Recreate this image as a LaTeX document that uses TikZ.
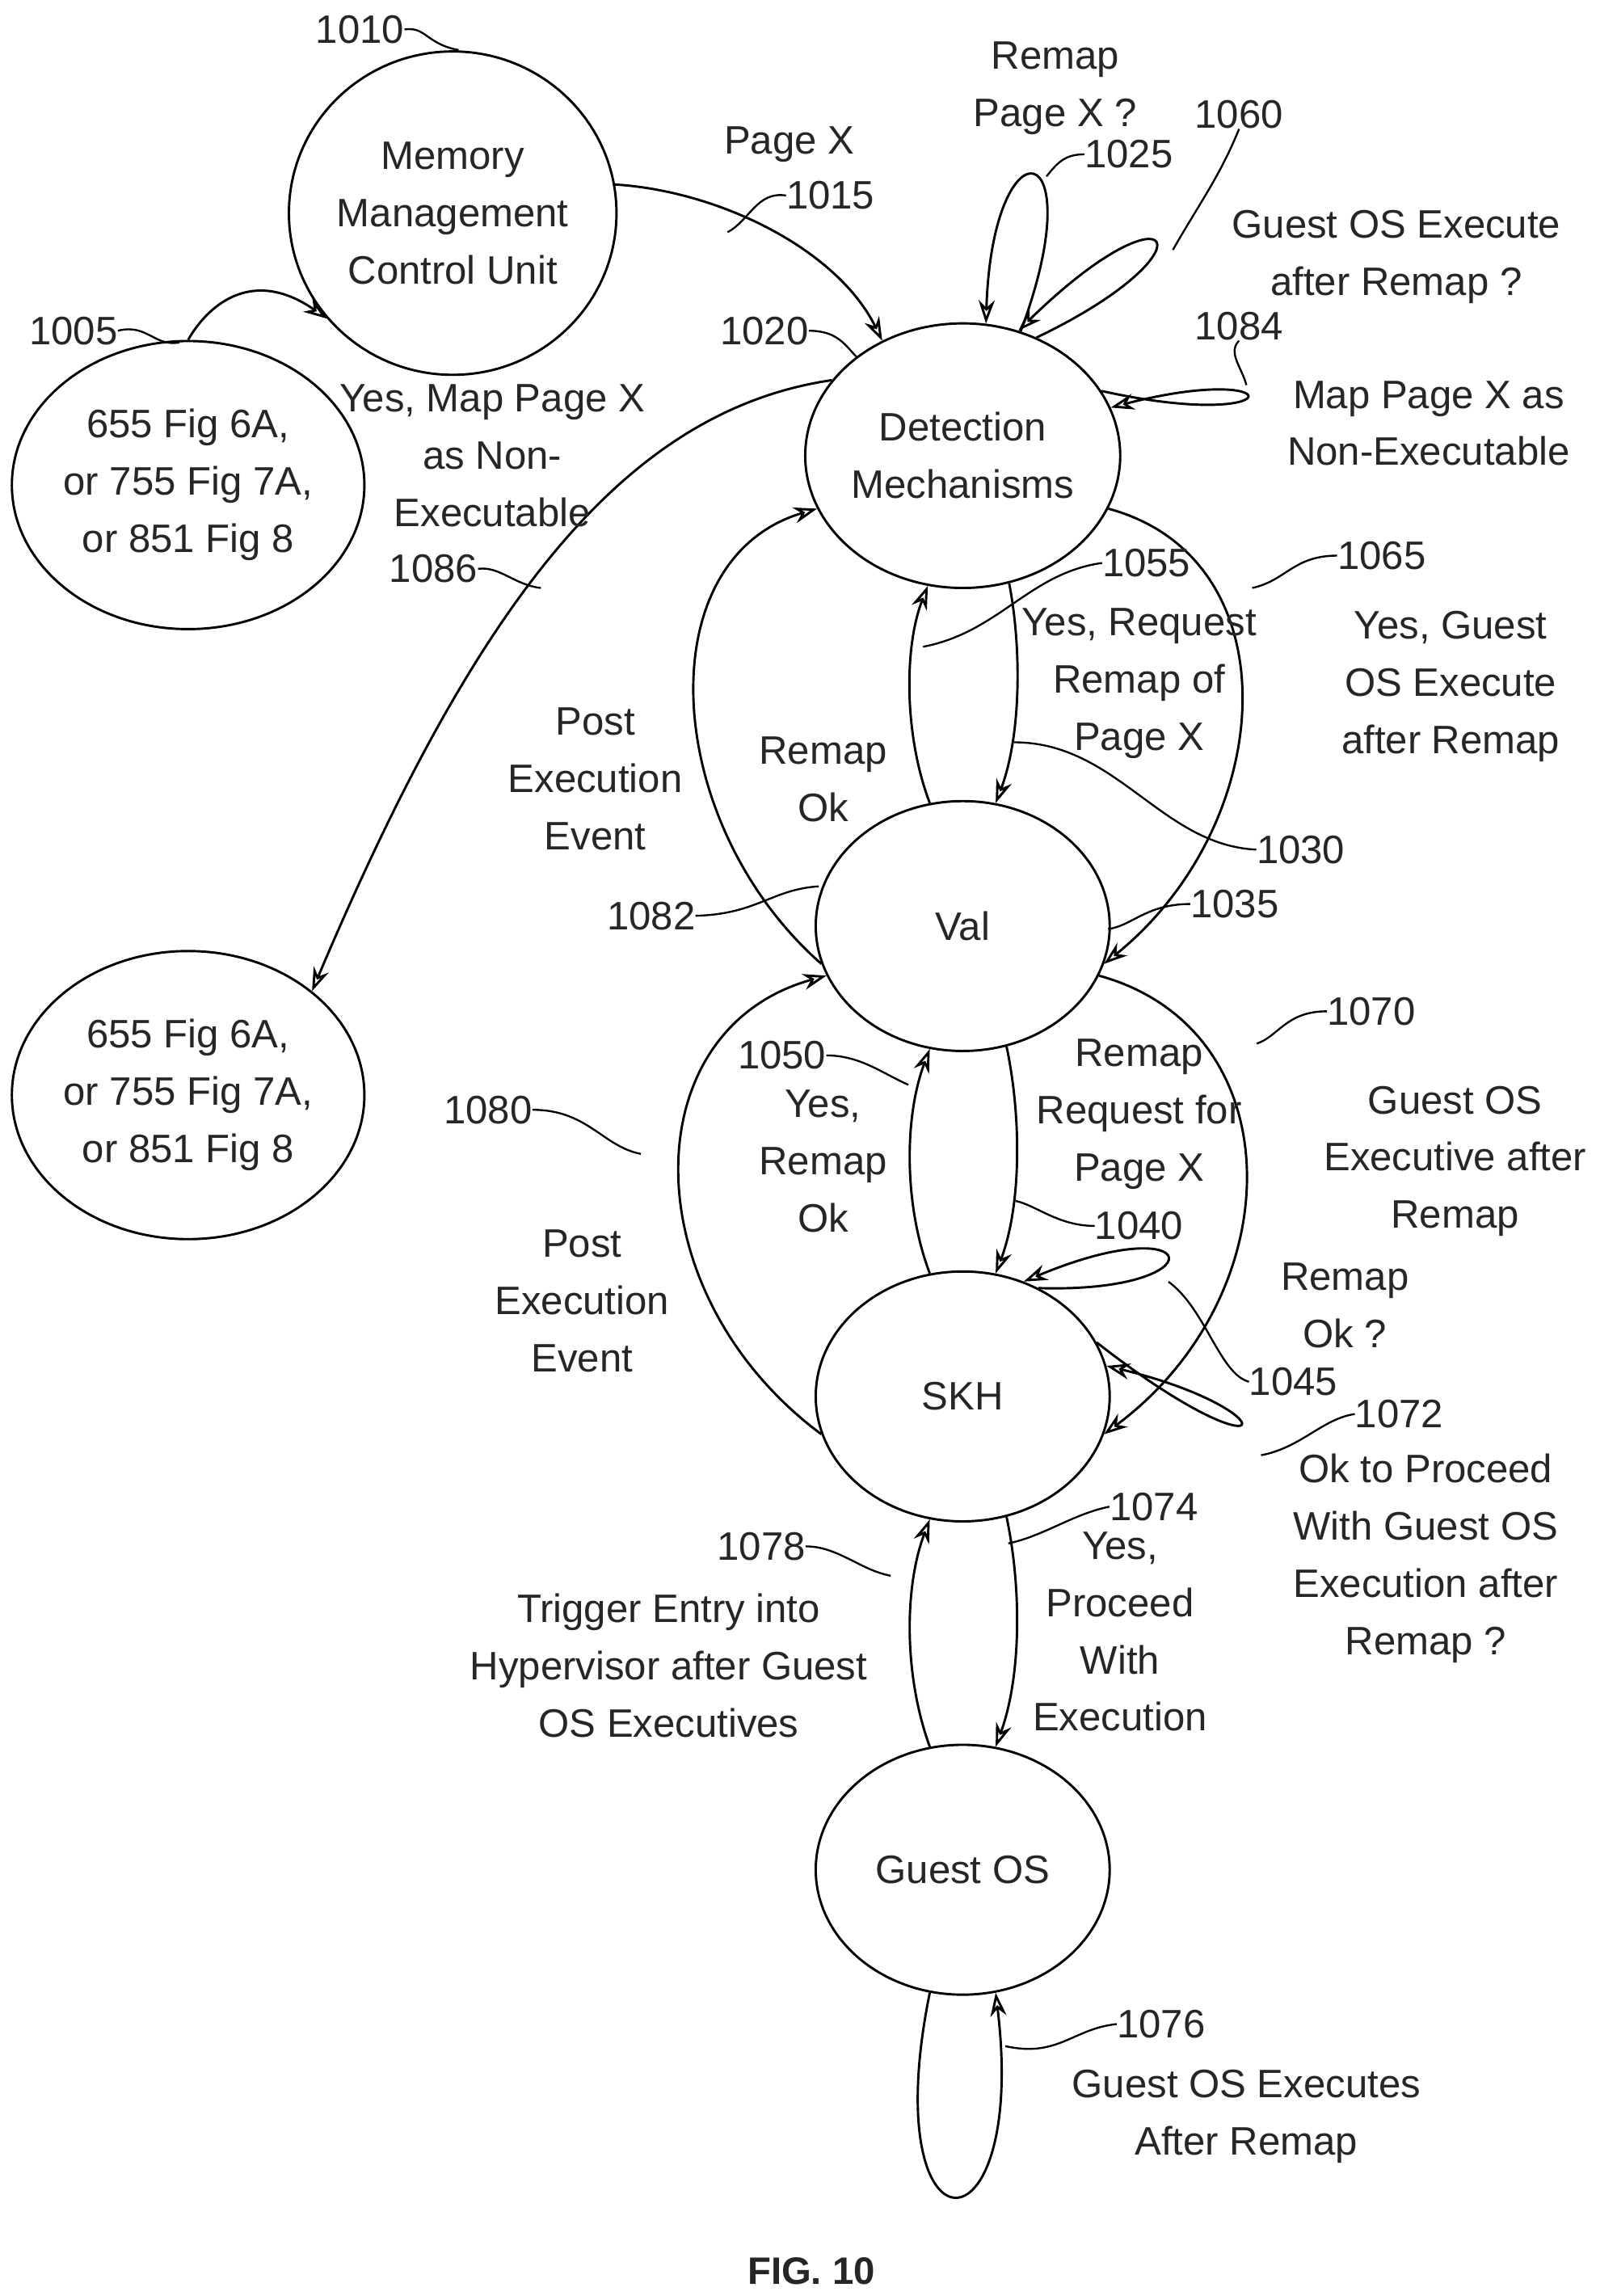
\documentclass[tikz,border=0pt]{standalone}
\usepackage{fontspec}
\setmainfont{Liberation Sans}
\usetikzlibrary{arrows.meta,shapes.geometric}
\begin{document}
\begin{tikzpicture}[x=1pt,y=-1pt,
  every node/.style={font=\fontsize{27}{39}\selectfont,align=center,text=black!85},
  st/.style={ellipse,draw,line width=1.6pt,inner sep=0pt},
  ar/.style={line width=1.6pt,-{Stealth[length=16pt,width=11pt,open]}},
  ld/.style={line width=1.3pt},
  lb/.style={inner sep=0pt}]
\useasboundingbox (0,0) rectangle (1100,1562);
\fill[white] (0,0) rectangle (1100,1562);
% states
\node[st,minimum width=220,minimum height=220] (mm) at (308,145) {Memory\\Management\\Control Unit};
\node[st,minimum width=230,minimum height=196] (l1) at (128,330) {655 Fig 6A,\\or 755 Fig 7A,\\or 851 Fig 8};
\node[st,minimum width=230,minimum height=196] (l2) at (128,745) {655 Fig 6A,\\or 755 Fig 7A,\\or 851 Fig 8};
\node[st,minimum width=200,minimum height=180] (det) at (655,310) {Detection\\Mechanisms};
\node[st,minimum width=200,minimum height=170] (val) at (655,630) {Val};
\node[st,minimum width=200,minimum height=170] (skh) at (655,950) {SKH};
\node[st,minimum width=200,minimum height=170] (gos) at (655,1272) {Guest OS};
% edges
\draw[ar] (l1.north) .. controls (140,210) and (170,180) .. (mm.220);
\draw[ar] (mm.10) .. controls (490,130) and (570,170) .. (det.125);
\draw[ar] (det.150) .. controls (420,280) and (320,420) .. (l2.40);
% det-val
\draw[ar] (val.195) .. controls (450,560) and (440,380) .. (det.200);
\draw[ar] (det.340) .. controls (880,380) and (870,560) .. (val.345);
\draw[ar] (val.105) .. controls (615,500) and (615,440) .. (det.255);
\draw[ar] (det.290) .. controls (695,440) and (695,500) .. (val.75);
% val-skh
\draw[ar] (skh.195) .. controls (430,880) and (430,700) .. (val.200);
\draw[ar] (val.340) .. controls (880,700) and (880,880) .. (skh.345);
\draw[ar] (skh.105) .. controls (615,820) and (615,760) .. (val.255);
\draw[ar] (val.290) .. controls (695,760) and (695,820) .. (skh.75);
% skh-gos
\draw[ar] (gos.105) .. controls (615,1140) and (615,1080) .. (skh.255);
\draw[ar] (skh.290) .. controls (695,1080) and (695,1140) .. (gos.75);
% loops
\draw[ar] (det.65) .. controls (745,90) and (675,80) .. (det.80);
\draw[ar] (det.58) .. controls (830,170) and (800,120) .. (det.66);
\draw[ar] (det.25) .. controls (880,295) and (880,245) .. (det.18);
\draw[ar] (skh.55) .. controls (830,880) and (820,820) .. (skh.62);
\draw[ar] (skh.22) .. controls (870,1010) and (880,960) .. (skh.12);
\draw[ar] (gos.255) .. controls (595,1540) and (700,1540) .. (gos.285);
% labels
\node[lb] (t1010) at (245,20) {1010};
\draw[ld] (t1010.east) .. controls (290,18) and (290,30) .. (312,34);
\node[lb] (t1005) at (50,225) {1005};
\draw[ld] (t1005.east) .. controls (100,220) and (105,236) .. (122,233);
\node[lb] at (537,98) {Page X};
\node[lb] (t1015) at (565,133) {1015};
\draw[ld] (t1015.west) .. controls (515,130) and (510,150) .. (495,158);
\node[lb] at (718,60) {Remap\\Page X ?};
\node[lb] (t1025) at (768,105) {1025};
\draw[ld] (t1025.west) .. controls (725,105) and (720,110) .. (712,120);
\node[lb] (t1060) at (843,78) {1060};
\draw[ld] (t1060.south) .. controls (830,120) and (815,140) .. (798,170);
\node[lb] at (950,175) {Guest OS Execute\\after Remap ?};
\node[lb] (t1020) at (520,225) {1020};
\draw[ld] (t1020.east) .. controls (570,225) and (575,235) .. (583,243);
\node[lb] (t1084) at (843,222) {1084};
\draw[ld] (t1084.south) .. controls (835,240) and (845,250) .. (848,262);
\node[lb] at (972,288) {Map Page X as\\Non-Executable};
\node[lb] at (335,310) {Yes, Map Page X\\as Non-\\Executable};
\node[lb] (t1086) at (295,387) {1086};
\draw[ld] (t1086.east) .. controls (340,385) and (350,398) .. (368,400);
\node[lb] (t1055) at (780,383) {1055};
\draw[ld] (t1055.west) .. controls (700,390) and (680,430) .. (628,440);
\node[lb] (t1065) at (940,378) {1065};
\draw[ld] (t1065.west) .. controls (880,378) and (875,395) .. (852,400);
\node[lb] at (775,465) {Yes, Request\\Remap of\\Page X};
\node[lb] at (987,467) {Yes, Guest\\OS Execute\\after Remap};
\node[lb] at (560,530) {Remap\\Ok};
\node[lb] at (405,530) {Post\\Execution\\Event};
\node[lb] (t1030) at (885,578) {1030};
\draw[ld] (t1030.west) .. controls (790,575) and (760,505) .. (690,505);
\node[lb] (t1082) at (443,623) {1082};
\draw[ld] (t1082.east) .. controls (515,622) and (525,605) .. (557,603);
\node[lb] (t1035) at (840,615) {1035};
\draw[ld] (t1035.west) .. controls (780,615) and (770,630) .. (754,632);
\node[lb] (t1070) at (933,688) {1070};
\draw[ld] (t1070.west) .. controls (875,688) and (870,705) .. (855,710);
\node[lb] (t1050) at (532,718) {1050};
\draw[ld] (t1050.east) .. controls (585,718) and (600,730) .. (618,738);
\node[lb] at (560,790) {Yes,\\Remap\\Ok};
\node[lb] at (775,758) {Remap\\Request for\\Page X};
\node[lb] (t1040) at (775,834) {1040};
\draw[ld] (t1040.west) .. controls (720,834) and (705,820) .. (691,817);
\node[lb] at (990,790) {Guest OS\\Executive after\\Remap};
\node[lb] (t1080) at (332,755) {1080};
\draw[ld] (t1080.east) .. controls (400,755) and (410,780) .. (436,785);
\node[lb] at (915,888) {Remap\\Ok ?};
\node[lb] at (396,885) {Post\\Execution\\Event};
\node[lb] (t1045) at (880,940) {1045};
\draw[ld] (t1045.west) .. controls (830,935) and (820,890) .. (795,872);
\node[lb] (t1072) at (952,962) {1072};
\draw[ld] (t1072.west) .. controls (900,965) and (885,985) .. (858,990);
\node[lb] at (970,1060) {Ok to Proceed\\With Guest OS\\Execution after\\Remap ?};
\node[lb] (t1074) at (785,1025) {1074};
\draw[ld] (t1074.west) .. controls (730,1030) and (710,1045) .. (686,1050);
\node[lb] (t1078) at (518,1052) {1078};
\draw[ld] (t1078.east) .. controls (570,1052) and (585,1068) .. (606,1072);
\node[lb] at (762,1110) {Yes,\\Proceed\\With\\Execution};
\node[lb] at (455,1133) {Trigger Entry into\\Hypervisor after Guest\\OS Executives};
\node[lb] (t1076) at (790,1377) {1076};
\draw[ld] (t1076.west) .. controls (730,1380) and (720,1400) .. (684,1392);
\node[lb] at (848,1440) {Guest OS Executes\\After Remap};
\node[lb,font=\bfseries\fontsize{26}{30}\selectfont] at (552,1545) {FIG. 10};
\end{tikzpicture}
\end{document}
